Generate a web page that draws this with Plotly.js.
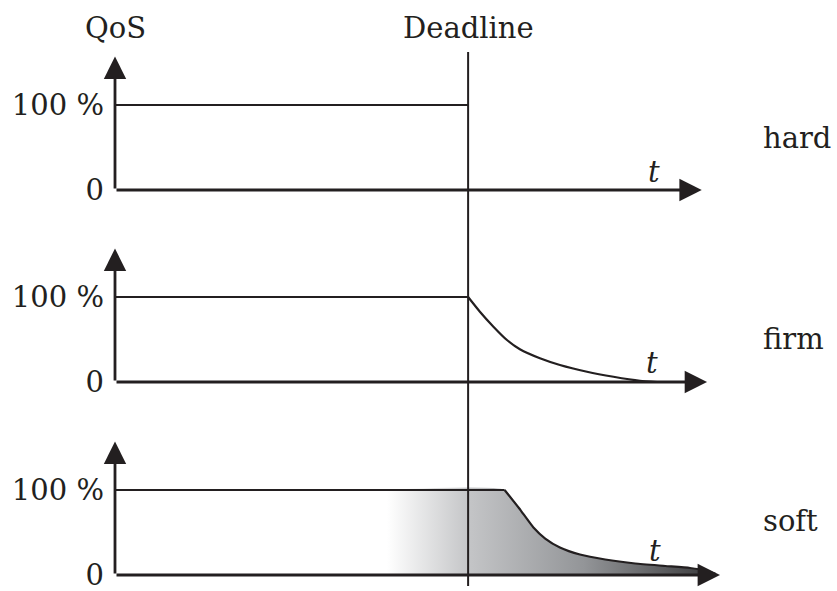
<!DOCTYPE html>
<html>
<head>
<meta charset="utf-8">
<script src="https://cdn.plot.ly/plotly-3.0.1.min.js"></script>
<style>html,body{margin:0;padding:0;background:#fff;}#chart{width:837px;height:591px;}</style>
</head>
<body>
<div id="chart"></div>
<script>
// ---- data ----
const panelNames = ['hard', 'firm', 'soft'];
const deadline = 6;
const hardT = [0, 6];
const hardQ = [100, 100];
const firmT = [0, 6, 6.20, 6.43, 6.66, 6.88, 7.22, 7.56, 8.02, 8.47, 8.92, 9.21];
const firmQ = [100, 100, 82.7, 65.1, 49.4, 38.5, 27.9, 20.0, 12.1, 6.2, 1.5, 0];
const softT = [0, 4.62, 6.62, 6.87, 7.11, 7.31, 7.56, 7.90, 8.33, 8.84, 9.35, 9.77, 10.03, 10.2];
const softQ = [100, 100, 100, 78.2, 55.9, 42.9, 32.4, 24.1, 18.2, 13.5, 10.6, 8.2, 5.3, 1.5];
const decayStartFirm = 6;     // t where the firm curve starts to fall
const decayStartSoft = 6.62;  // t where the soft curve starts to fall
const gradientStart = 4.62;
const timeAxisEnd = [9.97, 10.06, 10.28];
const qosAxisTop = 157;
const yTickVals = [0, 100];
const yTickText = ['0', '100 %'];
const tLabelPos = [[9.15, 21], [9.12, 22], [9.17, 28]];
const panelLabelPos = [[10.97, 61], [10.97, 51], [10.97, 64]];

// ---- style ----
const ink = '#231f20';
const font = 'DejaVu Serif, Liberation Serif, serif';
const fs = 29;
const yRefs = ['y', 'y2', 'y3'];
const yKeys = ['yaxis', 'yaxis2', 'yaxis3'];
const domains = [[0.7225, 0.9963], [0.3629, 0.6367], [0.0015, 0.2753]];

function part(T, Q, lo, hi) {
  const x = [], y = [];
  T.forEach((t, i) => { if (t >= lo && t <= hi) { x.push(t); y.push(Q[i]); } });
  return [x, y];
}

const traces = [];
const flatFill = part(softT, softQ, gradientStart, decayStartSoft);
const curveFill = part(softT, softQ, decayStartSoft, Infinity);
traces.push({
  x: flatFill[0].concat(curveFill[0].slice(1)), y: flatFill[1].concat(curveFill[1].slice(1)),
  yaxis: 'y3', mode: 'lines', line: {width: 0, shape: 'spline', smoothing: 0.5}, fill: 'tozeroy',
  fillgradient: {type: 'horizontal', colorscale: [[0, '#ffffff'], [0.25, '#c4c5c7'], [0.6, '#939598'], [1, '#38383a']]},
  hoverinfo: 'skip', showlegend: false
});
const series = [[hardT, hardQ, deadline], [firmT, firmQ, decayStartFirm], [softT, softQ, decayStartSoft]];
series.forEach((d, i) => {
  const flat = part(d[0], d[1], -Infinity, d[2]);
  traces.push({x: flat[0], y: flat[1], yaxis: yRefs[i], mode: 'lines',
    line: {color: ink, width: 2.2}, cliponaxis: false, hoverinfo: 'skip', showlegend: false});
  const curve = part(d[0], d[1], d[2], Infinity);
  if (curve[0].length > 1) {
    traces.push({x: curve[0], y: curve[1], yaxis: yRefs[i], mode: 'lines',
      line: {color: ink, width: 2.2, shape: 'spline', smoothing: 0.5}, cliponaxis: false, hoverinfo: 'skip', showlegend: false});
  }
});

const annotations = [];
const arrowStyle = {showarrow: true, arrowhead: 2, arrowsize: 1.6, arrowwidth: 2.8, arrowcolor: ink, standoff: 0, text: ''};
for (let i = 0; i < 3; i++) {
  annotations.push(Object.assign({x: 0, y: qosAxisTop, ax: 0, ay: 0, xref: 'x', yref: yRefs[i], axref: 'x', ayref: yRefs[i]}, arrowStyle));
  annotations.push(Object.assign({x: timeAxisEnd[i], y: 0, ax: 0, ay: 0, xref: 'x', yref: yRefs[i], axref: 'x', ayref: yRefs[i]}, arrowStyle));
  annotations.push({x: tLabelPos[i][0], y: tLabelPos[i][1], xref: 'x', yref: yRefs[i], text: '<i>t</i>', showarrow: false,
    font: {family: font, size: fs, color: ink}});
  annotations.push({x: panelLabelPos[i][0], y: panelLabelPos[i][1], xref: 'x', yref: yRefs[i], text: panelNames[i], showarrow: false,
    xanchor: 'left', font: {family: font, size: fs, color: ink}});
}
annotations.push({x: 0, y: 1.045, xref: 'x', yref: 'paper', yanchor: 'middle', text: 'QoS', showarrow: false, font: {family: font, size: fs, color: ink}});
annotations.push({x: deadline, y: 1.045, xref: 'x', yref: 'paper', yanchor: 'middle', text: 'Deadline', showarrow: false, font: {family: font, size: fs, color: ink}});

const layout = {
  width: 837, height: 591,
  margin: {l: 115, r: 4, t: 52, b: 5},
  paper_bgcolor: '#fff', plot_bgcolor: 'rgba(0,0,0,0)',
  showlegend: false,
  xaxis: {range: [0, 12.2], showgrid: false, zeroline: false, showline: false, showticklabels: false, ticks: ''},
  shapes: [{type: 'line', xref: 'x', yref: 'paper', x0: deadline, x1: deadline, y0: 0, y1: 1, line: {color: ink, width: 2}}],
  annotations: annotations
};
for (let i = 0; i < 3; i++) {
  layout[yKeys[i]] = {domain: domains[i], range: [-12, 160], showgrid: false, zeroline: false, showline: false,
    tickvals: yTickVals, ticktext: yTickText, ticks: '', ticklabelstandoff: 10, ticklabeloverflow: 'allow',
    tickfont: {family: font, size: fs, color: ink}, anchor: 'x'};
}
Plotly.newPlot('chart', traces, layout, {staticPlot: true, displayModeBar: false});
</script>
</body>
</html>
